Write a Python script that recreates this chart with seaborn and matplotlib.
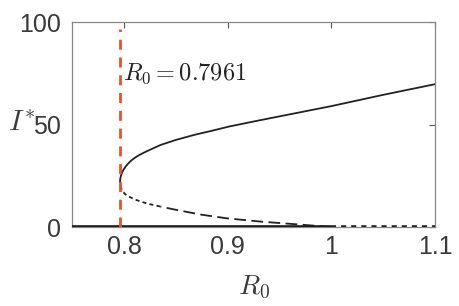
import matplotlib
matplotlib.use("Agg")
import matplotlib.pyplot as plt
import seaborn as sns
import pandas as pd

# equilibrium curve (R0, I*)
R0_lower = [1.0, 0.97, 0.933, 0.90, 0.875, 0.851, 0.835, 0.822, 0.81, 0.8035, 0.8005,
            0.7985, 0.7972, 0.7964, 0.7961]
I_lower = [0, 1.2, 2.6, 4.2, 6.0, 8.3, 10.0, 11.5, 13.5, 15.2, 16.3,
           17.5, 19.0, 20.5, 22.0]
R0_upper = [0.7961, 0.7963, 0.797, 0.798, 0.7995, 0.8015, 0.804, 0.807, 0.811, 0.816, 0.822,
            0.835, 0.85, 0.868, 0.885, 0.901, 0.93, 0.95, 1.0, 1.05, 1.1]
I_upper = [22.0, 23.5, 25.0, 26.5, 28.0, 29.5, 31.0, 32.5, 34.0, 35.5, 37.0,
           40.0, 42.5, 45.0, 47.0, 49.0, 52.0, 54.0, 59.0, 64.5, 69.7]
R0_stable_dfe = [0.75, 1.0]
R0_unstable_dfe = [1.0, 1.1]
R0_crit = 0.7961

sns.set_style("white")
plt.rcParams['font.family'] = ['Liberation Sans', 'DejaVu Sans']
plt.rcParams['mathtext.fontset'] = 'cm'

fig = plt.figure(figsize=(4.6, 3.06), dpi=100)
ax = fig.add_axes([0.157, 0.258, 0.789, 0.67])

lower = pd.DataFrame({'R0': R0_lower, 'I': I_lower})
upper = pd.DataFrame({'R0': R0_upper, 'I': I_upper})
near = lower[lower['R0'] <= 0.835]
far = lower[lower['R0'] >= 0.835]

sns.lineplot(data=upper, x='R0', y='I', sort=False, estimator=None, color='#222222', lw=1.3, ax=ax)
sns.lineplot(data=near, x='R0', y='I', sort=False, estimator=None, color='#222222', lw=1.3, ax=ax)
ax.lines[-1].set_dashes([2.2, 1.8])
sns.lineplot(data=far, x='R0', y='I', sort=False, estimator=None, color='#222222', lw=1.3, ax=ax)
ax.lines[-1].set_dashes([6.5, 3])

ax.plot(R0_stable_dfe, [0, 0], color='#1a1a1a', lw=2.6, solid_capstyle='butt', zorder=3)
ax.plot(R0_unstable_dfe, [0, 0], color='#222222', lw=2.6, linestyle=(0, (1.4, 1.4)), zorder=3)
ax.plot([R0_crit, R0_crit], [0, 96.5], color='#EE4E2A', lw=2.0, linestyle=(0, (3.6, 2.8)), zorder=4)

ax.text(0.7985, 75, r'$R_0 = 0.7961$', fontsize=17.5, va='center', ha='left', color='#222222')

ax.set_xlim(0.75, 1.1)
ax.set_ylim(0, 100)
ax.set_xticks([0.8, 0.9, 1.0, 1.1])
ax.set_xticklabels(['0.8', '0.9', '1', '1.1'])
ax.set_yticks([0, 50, 100])
ax.tick_params(direction='in', length=4, width=0.8, color='#555555', labelsize=18,
               labelcolor='#3a3a3a', top=True, right=True, pad=6)
ax.tick_params(axis='y', pad=8)
for s in ax.spines.values():
    s.set_color('#888888')
    s.set_linewidth(0.9)

ax.set_xlabel(r'$R_0$', fontsize=20, color='#3a3a3a')
ax.xaxis.set_label_coords(0.5, -0.23)
ax.set_ylabel(r'$I^{*}$', fontsize=21, color='#3a3a3a', rotation=0)
ax.yaxis.set_label_coords(-0.14, 0.44)

fig.savefig('out.png', dpi=100)
